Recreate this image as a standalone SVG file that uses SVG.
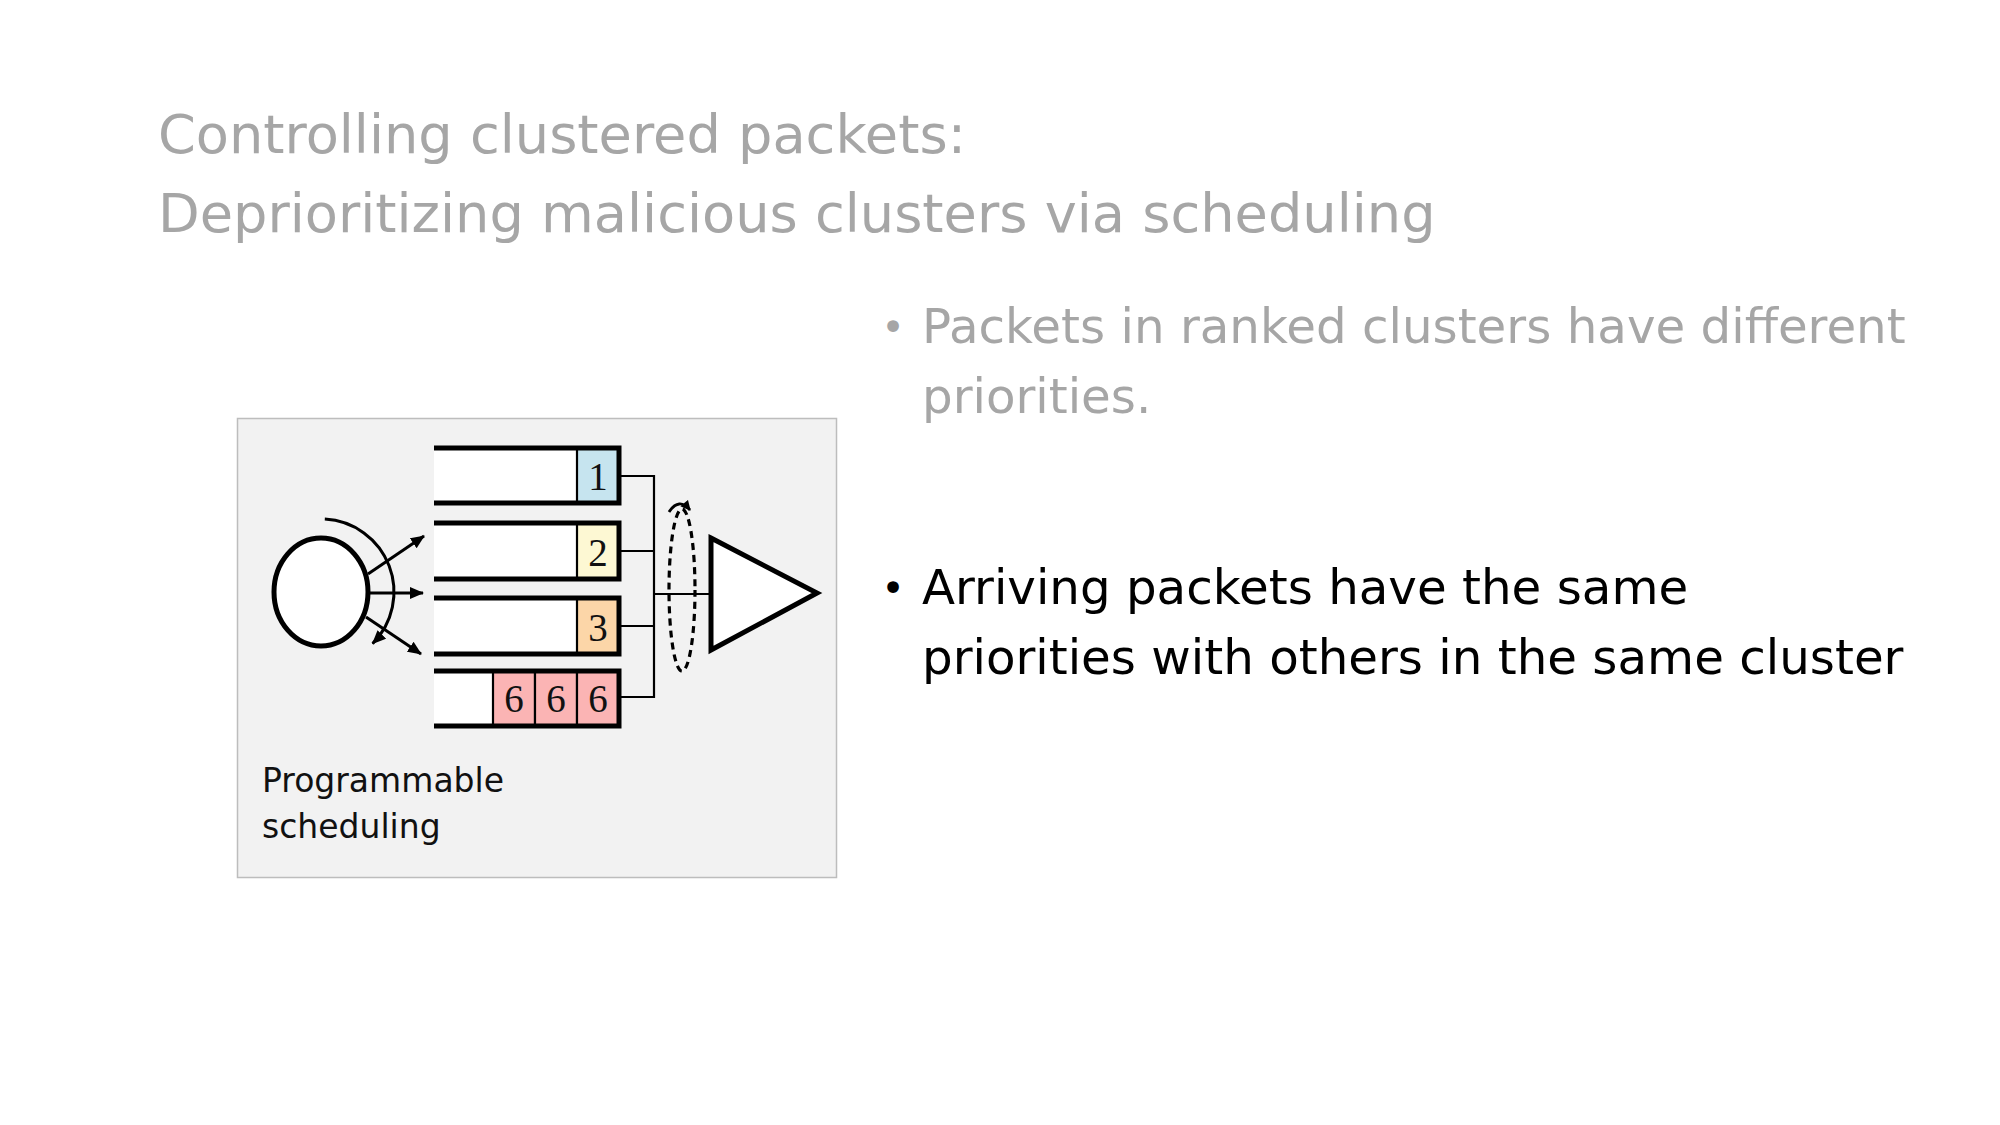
<svg xmlns="http://www.w3.org/2000/svg" width="2000" height="1125" viewBox="0 0 2000 1125">
<defs>
<style>
.title{font-family:"DejaVu Sans","Liberation Sans",sans-serif;font-size:54.2px;fill:#a6a6a6}
.b1{font-family:"DejaVu Sans","Liberation Sans",sans-serif;font-size:48.3px;fill:#a6a6a6}
.b2{font-family:"DejaVu Sans","Liberation Sans",sans-serif;font-size:48.3px;fill:#000}
.dot{font-family:"DejaVu Sans","Liberation Sans",sans-serif;font-size:40px;text-anchor:middle}
.lbl{font-family:"DejaVu Sans","Liberation Sans",sans-serif;font-size:33px;fill:#111}
.num{font-family:"Liberation Serif","Times New Roman",serif;font-size:39px;fill:#111;text-anchor:middle}
.q{fill:#fff;stroke:none}
.qb{fill:none;stroke:#000;stroke-width:5}
.cell{stroke:#000;stroke-width:2.2}
.wire{fill:none;stroke:#000;stroke-width:2.2}
.arr{fill:none;stroke:#000;stroke-width:3;marker-end:url(#ah)}
</style>
<marker id="ah" viewBox="0 0 14 12" refX="13" refY="6" markerWidth="14" markerHeight="12" markerUnits="userSpaceOnUse" orient="auto">
<path d="M0,0 L14,6 L0,12 Z" fill="#000"/>
</marker>
<marker id="ah2" viewBox="0 0 10 10" refX="9" refY="5" markerWidth="11" markerHeight="10" markerUnits="userSpaceOnUse" orient="auto">
<path d="M0,0 L10,5 L0,10 Z" fill="#000"/>
</marker>
</defs>
<rect width="2000" height="1125" fill="#fff"/>
<g id="title">
<text class="title" x="158" y="153">Controlling clustered packets:</text>
<text class="title" x="158" y="232">Deprioritizing malicious clusters via scheduling</text>
</g>
<g id="bullet1">
<text class="dot" x="893" y="341" fill="#a6a6a6">•</text>
<text class="b1" x="922" y="343">Packets in ranked clusters have different</text>
<text class="b1" x="922" y="413">priorities.</text>
</g>
<g id="bullet2">
<text class="dot" x="893" y="602" fill="#000">•</text>
<text class="b2" x="922" y="604">Arriving packets have the same</text>
<text class="b2" x="922" y="674">priorities with others in the same cluster</text>
</g>
<g id="panel">
<rect x="237.5" y="418.5" width="599" height="459" fill="#f2f2f2" stroke="#bdbdbd" stroke-width="1.5"/>
</g>
<g id="source">
<ellipse cx="321" cy="592" rx="47" ry="54" fill="#fff" stroke="#000" stroke-width="5"/>
<path d="M324.8,519.1 A73,73 0 0 1 372.6,643.6" fill="none" stroke="#000" stroke-width="3" marker-end="url(#ah)"/>
</g>
<g id="queue1">
<rect class="q" x="434" y="448" width="185" height="55"/>
<rect class="cell" x="577" y="448" width="42" height="55" fill="#c6e4ef"/>
<polyline class="qb" points="434,448 619,448 619,503 434,503"/>
<text class="num" x="598" y="490">1</text>
</g>
<g id="queue2">
<rect class="q" x="434" y="523" width="185" height="56"/>
<rect class="cell" x="577" y="523" width="42" height="56" fill="#fdf8d3"/>
<polyline class="qb" points="434,523 619,523 619,579 434,579"/>
<text class="num" x="598" y="566">2</text>
</g>
<g id="queue3">
<rect class="q" x="434" y="598" width="185" height="56"/>
<rect class="cell" x="577" y="598" width="42" height="56" fill="#fcd6a8"/>
<polyline class="qb" points="434,598 619,598 619,654 434,654"/>
<text class="num" x="598" y="641">3</text>
</g>
<g id="queue4">
<rect class="q" x="434" y="671" width="185" height="55"/>
<rect class="cell" x="493" y="671" width="42" height="55" fill="#fbb4b4"/>
<rect class="cell" x="535" y="671" width="42" height="55" fill="#fbb4b4"/>
<rect class="cell" x="577" y="671" width="42" height="55" fill="#fbb4b4"/>
<polyline class="qb" points="434,671 619,671 619,726 434,726"/>
<text class="num" x="514" y="712">6</text>
<text class="num" x="556" y="712">6</text>
<text class="num" x="598" y="712">6</text>
</g>
<g id="scheduler">
<ellipse cx="682" cy="590" rx="13" ry="81" fill="none" stroke="#000" stroke-width="3.2" stroke-dasharray="7 5"/>
<path d="M669,512 Q679,497 690,510" fill="none" stroke="#000" stroke-width="2.8" marker-end="url(#ah2)"/>
</g>
<g id="output">
<polygon points="711,538 817,593 711,650" fill="#fff" stroke="#000" stroke-width="5" stroke-linejoin="miter"/>
</g>
<g id="connectors">
<line class="arr" x1="368" y1="574" x2="424" y2="536"/>
<line class="arr" x1="370" y1="593" x2="423" y2="593"/>
<line class="arr" x1="366" y1="617" x2="421" y2="654"/>
<polyline class="wire" points="621,476 654,476 654,697 621,697"/>
<line class="wire" x1="621" y1="551" x2="654" y2="551"/>
<line class="wire" x1="621" y1="626" x2="654" y2="626"/>
<line class="wire" x1="654" y1="594" x2="711" y2="594"/>
</g>
<g id="label">
<text class="lbl" x="262" y="792">Programmable</text>
<text class="lbl" x="262" y="838">scheduling</text>
</g>
</svg>
